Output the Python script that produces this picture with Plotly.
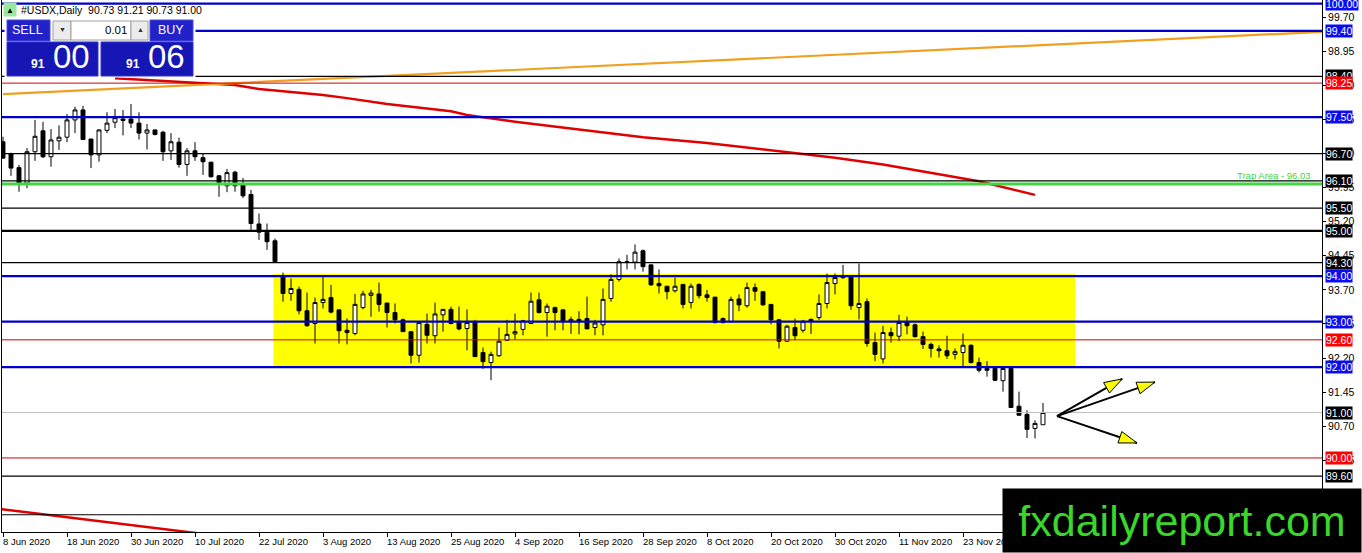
import numpy as np
import pandas as pd
import plotly.graph_objects as go

# #USDX daily candles, one per weekday from 8 Jun 2020
open_ = [
    96.96, 96.69, 96.39, 96.05, 96.74, 97.20, 96.63, 96.98, 97.06, 97.44,
    97.66, 97.02, 96.67, 97.21, 97.39, 97.46, 97.46, 97.37, 97.15, 97.22,
    97.17, 96.76, 96.95, 96.46, 96.76, 96.61, 96.51, 96.21, 95.99, 96.29,
    96.02, 95.80, 95.15, 94.97, 94.78, 93.99, 93.62, 93.71, 93.24, 92.96,
    93.42, 93.53, 93.26, 92.81, 92.74, 93.31, 93.58, 93.61, 93.41, 93.20,
    93.04, 92.78, 92.26, 92.94, 92.69, 93.15, 93.27, 93.00, 92.85, 93.00,
    92.32, 92.10, 92.25, 92.59, 92.73, 92.83, 92.96, 93.48, 93.20, 93.31,
    93.26, 93.00, 93.05, 93.07, 92.87, 92.93, 93.51, 93.93, 94.32, 94.31,
    94.56, 94.25, 93.84, 93.78, 93.68, 93.82, 93.42, 93.82, 93.59, 93.54,
    93.07, 93.00, 93.50, 93.35, 93.75, 93.66, 93.38, 93.04, 92.57, 92.87,
    92.81, 93.05, 93.09, 93.40, 93.84, 94.01, 93.99, 93.31, 93.44, 92.54,
    92.18, 92.76, 92.68, 93.00, 92.93, 92.67, 92.50, 92.40, 92.36, 92.28,
    92.32, 92.48, 92.10, 91.97, 91.97, 91.70, 91.97, 91.14, 90.96, 90.65,
    90.73,
]
high = [
    97.07, 96.72, 96.45, 96.82, 97.44, 97.40, 97.24, 97.32, 97.57, 97.73,
    97.75, 97.02, 97.23, 97.61, 97.68, 97.66, 97.79, 97.61, 97.35, 97.23,
    97.20, 97.15, 97.05, 96.82, 96.95, 96.69, 96.52, 96.23, 96.36, 96.32,
    96.16, 95.90, 95.38, 95.16, 94.83, 94.08, 93.95, 93.77, 93.64, 93.53,
    93.98, 93.81, 93.26, 93.07, 93.61, 93.68, 93.70, 93.86, 93.41, 93.40,
    93.07, 92.78, 92.98, 93.18, 93.42, 93.27, 93.33, 93.33, 93.27, 93.04,
    92.43, 92.34, 92.87, 93.04, 93.18, 93.04, 93.64, 93.64, 93.40, 93.33,
    93.26, 93.11, 93.23, 93.55, 93.04, 93.73, 94.04, 94.39, 94.47, 94.70,
    94.59, 94.25, 94.15, 93.78, 93.97, 93.82, 93.84, 93.84, 93.70, 93.54,
    93.09, 93.55, 93.60, 93.86, 93.84, 93.66, 93.38, 93.06, 92.93, 93.07,
    93.04, 93.07, 93.60, 94.06, 94.06, 94.25, 93.99, 94.28, 93.51, 92.76,
    92.91, 92.87, 93.15, 93.11, 92.96, 92.78, 92.54, 92.48, 92.69, 92.41,
    92.74, 92.50, 92.21, 92.13, 91.97, 92.01, 91.99, 91.46, 91.05, 90.83,
    91.21,
]
low = [
    96.58, 96.21, 95.86, 95.94, 96.54, 96.60, 96.41, 96.78, 96.95, 97.15,
    97.00, 96.38, 96.52, 97.15, 97.26, 97.10, 97.26, 97.01, 96.79, 97.10,
    96.54, 96.56, 96.39, 96.21, 96.54, 96.23, 96.17, 95.75, 95.85, 95.86,
    95.72, 95.02, 94.80, 94.58, 94.30, 93.44, 93.46, 93.16, 92.89, 92.52,
    93.29, 93.18, 92.52, 92.50, 92.70, 93.27, 93.11, 93.22, 92.87, 92.96,
    92.78, 92.08, 92.10, 92.52, 92.52, 92.78, 92.94, 92.81, 92.37, 92.23,
    91.96, 91.71, 92.23, 92.58, 92.61, 92.70, 92.96, 93.18, 92.67, 92.81,
    92.81, 92.73, 92.72, 92.84, 92.70, 92.70, 93.44, 93.88, 94.15, 94.15,
    94.10, 93.79, 93.62, 93.49, 93.64, 93.29, 93.29, 93.51, 93.44, 92.96,
    92.96, 92.98, 93.23, 93.31, 93.46, 93.35, 92.94, 92.41, 92.56, 92.59,
    92.76, 92.73, 93.04, 93.29, 93.60, 93.94, 93.26, 93.05, 92.45, 92.13,
    92.08, 92.54, 92.57, 92.72, 92.65, 92.40, 92.21, 92.21, 92.18, 92.17,
    92.01, 92.08, 91.88, 91.79, 91.69, 91.46, 91.10, 90.93, 90.44, 90.43,
    90.73,
]
close = [
    96.60, 96.38, 96.05, 96.74, 97.08, 96.63, 97.00, 97.06, 97.44, 97.66,
    97.01, 96.67, 97.22, 97.37, 97.49, 97.43, 97.37, 97.15, 97.22, 97.12,
    96.74, 96.96, 96.46, 96.76, 96.63, 96.52, 96.19, 96.06, 96.28, 95.99,
    95.77, 95.16, 94.97, 94.76, 94.32, 93.62, 93.73, 93.24, 92.91, 93.42,
    93.49, 93.21, 92.80, 92.76, 93.38, 93.61, 93.63, 93.38, 93.20, 93.04,
    92.78, 92.26, 92.98, 92.70, 93.17, 93.27, 92.96, 92.84, 92.98, 92.23,
    92.12, 92.28, 92.57, 92.72, 92.78, 93.02, 93.45, 93.20, 93.34, 93.20,
    93.00, 93.05, 93.00, 92.84, 92.97, 93.49, 93.93, 94.32, 94.31, 94.53,
    94.21, 93.81, 93.79, 93.66, 93.78, 93.38, 93.78, 93.57, 93.53, 92.98,
    92.98, 93.49, 93.37, 93.75, 93.67, 93.37, 93.04, 92.57, 92.90, 92.69,
    93.01, 93.01, 93.40, 93.86, 93.97, 93.97, 93.35, 93.40, 92.52, 92.28,
    92.76, 92.69, 92.98, 92.91, 92.67, 92.50, 92.41, 92.36, 92.25, 92.34,
    92.48, 92.10, 91.93, 91.93, 91.71, 91.97, 91.11, 90.94, 90.63, 90.76,
    91.00,
]

# horizontal levels drawn on the chart
levels = [100.00, 99.40, 98.40, 98.25, 97.50, 96.70, 96.10, 95.50, 95.00,
          94.30, 94.00, 93.00, 92.60, 92.00, 91.00, 90.00, 89.60, 88.75]
level_kinds = ['major', 'major', 'minor', 'pivot', 'major', 'minor', 'minor', 'minor', 'round',
               'minor', 'major', 'major', 'pivot', 'major', 'price', 'pivot', 'minor', 'minor']
trap_level = 96.03
y_ticks = [99.70, 98.95, 98.20, 97.45, 96.70, 95.95, 95.20, 94.45, 93.70,
           92.95, 92.20, 91.45, 90.70, 89.95, 89.20]

# consolidation box (bar index span, price span)
range_box_bars = [33.8, 134.0]
range_box_prices = [92.00, 94.05]

# moving average (red) sampled along the chart
ma_bars = [14, 16, 24, 29, 32, 40, 43, 48, 56, 58, 64, 72, 77, 80, 88, 96, 100, 104, 110, 117, 122, 129]
ma_values = [98.36, 98.34, 98.26, 98.21, 98.12, 97.99, 97.92, 97.79, 97.63, 97.55, 97.40,
             97.23, 97.13, 97.06, 96.93, 96.77, 96.69, 96.61, 96.46, 96.25, 96.09, 95.79]

# trendlines
trend_bars = [0, 165]
trend_values = [98.01, 99.38]
lower_trend_bars = [-1, 30]
lower_trend_values = [88.89, 88.22]

# scenario arrows
arrow_origin = (131.75, 90.92)
arrow_tip_bars = [139.9, 144.0, 141.75]
arrow_tip_prices = [91.74, 91.67, 90.33]

symbol = '#USDX,Daily'
bid_price, ask_price, lot = 91.00, 91.06, 0.01

dates = pd.bdate_range('2020-06-08', periods=len(close))
bars = np.arange(len(close))
tick_bars = bars[::8]
tick_text = [f'{d.day} {d:%b %Y}' for d in dates[::8]]

W, H = 1362, 553
ML, MR, MT, MB = 2, 40, 0, 21
PW, PH = W - ML - MR, H - MT - MB
x_range = [-0.125, 164.875]
y_range = [88.37, 100.08]
FONT = 'Liberation Sans'


def px(x):
    return (x - ML) / PW


def py(y):
    return 1 - (y - MT) / PH


line_style = {
    'major': ('#0000cc', 2.2, '#0c0cf0'),
    'minor': ('#000000', 1.2, '#000000'),
    'round': ('#000000', 2.2, '#000000'),
    'pivot': ('#d40000', 1.0, '#ff0000'),
    'price': ('#c0c0c0', 1.0, '#000000'),
}

fig = go.Figure()
fig.add_trace(
    go.Candlestick(
        x=bars,
        open=open_,
        high=high,
        low=low,
        close=close,
        increasing={'fillcolor': 'white', 'line': {'color': 'black', 'width': 1}},
        decreasing={'fillcolor': 'black', 'line': {'color': 'black', 'width': 1}},
        whiskerwidth=0,
        hoverinfo='skip',
        showlegend=False,
    )
)
fig.add_trace(go.Scatter(x=ma_bars, y=ma_values, mode='lines', line={'color': '#e00000', 'width': 2.5},
                         hoverinfo='skip', showlegend=False))
fig.add_trace(go.Scatter(x=trend_bars, y=trend_values, mode='lines', line={'color': '#f0a020', 'width': 2.2},
                         hoverinfo='skip', showlegend=False))
fig.add_trace(go.Scatter(x=lower_trend_bars, y=lower_trend_values, mode='lines', line={'color': '#e00000', 'width': 2.5},
                         hoverinfo='skip', showlegend=False))

shapes = []
annotations = []

# yellow range box behind candles
shapes.append(dict(type='rect', xref='x', yref='y', x0=range_box_bars[0], x1=range_box_bars[1],
                   y0=range_box_prices[0], y1=range_box_prices[1], fillcolor='#ffff00', line={'width': 0},
                   layer='below'))

for level, kind in zip(levels, level_kinds):
    color, width, box = line_style[kind]
    shapes.append(dict(type='line', xref='paper', yref='y', x0=0, x1=1, y0=level, y1=level,
                       line={'color': color, 'width': width}, layer='above'))
    annotations.append(dict(text=f'{level:.2f}', x=1, xref='paper', xanchor='left', xshift=3,
                            y=level, yref='y', yanchor='middle', showarrow=False, bgcolor=box,
                            borderpad=0, font={'family': FONT, 'size': 10.5, 'color': 'white'}))

shapes.append(dict(type='line', xref='paper', yref='y', x0=0, x1=1, y0=trap_level, y1=trap_level,
                   line={'color': '#44d444', 'width': 3}, layer='above'))
annotations.append(dict(text=f'Trap Area - {trap_level:.2f}', x=1, xref='paper', xanchor='right', xshift=-9,
                        y=trap_level, yref='y', yanchor='bottom', yshift=1, showarrow=False,
                        font={'family': FONT, 'size': 9.5, 'color': '#44d444'}))

# scenario arrows: black shafts with yellow heads
ppb = PW / (x_range[1] - x_range[0])
ppp = PH / (y_range[1] - y_range[0])
ox, oy = arrow_origin
for tx, ty in zip(arrow_tip_bars, arrow_tip_prices):
    shapes.append(dict(type='line', xref='x', yref='y', x0=ox, y0=oy, x1=tx, y1=ty,
                       line={'color': 'black', 'width': 2}, layer='above'))
    dx, dy = (tx - ox) * ppb, (ty - oy) * ppp
    n = np.hypot(dx, dy)
    ux, uy = dx / n, dy / n
    bx, by = -18 * ux, -18 * uy
    nx, ny = -uy * 6, ux * 6
    path = f'M0,0 L{bx + nx:.1f},{by + ny:.1f} L{bx - nx:.1f},{by - ny:.1f} Z'
    shapes.append(dict(type='path', xref='x', yref='y', xsizemode='pixel', ysizemode='pixel',
                       xanchor=tx, yanchor=ty, path=path, fillcolor='#ffff00',
                       line={'color': 'black', 'width': 1}, layer='above'))

# one-click trading panel
panel_rects = [
    ((5, 18, 195, 77), 'white', 'white'),
    ((7, 20, 50, 41), '#2222c8', '#4a4ae0'),
    ((53, 21, 71, 40), '#ececec', '#a0a0a0'),
    ((71, 21, 131, 40), 'white', '#a0a0a0'),
    ((131, 21, 148, 40), '#ececec', '#a0a0a0'),
    ((150, 20, 193, 41), '#2222c8', '#4a4ae0'),
    ((7, 42, 98, 76), '#1616b4', '#3030d0'),
    ((101, 42, 193, 76), '#1616b4', '#3030d0'),
    ((4, 3, 16, 16), '#9be89b', '#9be89b'),
]
for (x0, y0, x1, y1), fill, edge in panel_rects:
    shapes.append(dict(type='rect', xref='paper', yref='paper', x0=px(x0), x1=px(x1), y0=py(y1), y1=py(y0),
                       fillcolor=fill, line={'color': edge, 'width': 1}, layer='above'))


def label(text, x, y, size, color='white', xanchor='center', yanchor='middle'):
    annotations.append(dict(text=text, x=px(x), y=py(y), xref='paper', yref='paper', xanchor=xanchor,
                            yanchor=yanchor, showarrow=False, font={'family': FONT, 'size': size, 'color': color}))


bid_big, bid_small = f'{bid_price:.2f}'.split('.')
ask_big, ask_small = f'{ask_price:.2f}'.split('.')
label('SELL', 28, 30, 12.5)
label('BUY', 171, 30, 12.5)
label('▼', 62, 30, 7, '#333333')
label('▲', 140, 30, 7, '#333333')
label(f'{lot:.2f}', 129, 30, 11.5, 'black', xanchor='right')
label(f'<b>{bid_big}</b>', 47, 73, 12, xanchor='right', yanchor='bottom')
label(bid_small, 51, 77, 33, xanchor='left', yanchor='bottom')
label(f'<b>{ask_big}</b>', 142, 73, 12, xanchor='right', yanchor='bottom')
label(ask_small, 146, 77, 33, xanchor='left', yanchor='bottom')
label('▲', 10, 10, 8, 'black')
o, h, l, c = open_[-1], high[-1], low[-1], close[-1]
label(f'{symbol}  {o:.2f} {h:.2f} {l:.2f} {c:.2f}', 19, 10, 10.5, 'black', xanchor='left')

# date labels start at their tick, as in the terminal
for b, t in zip(tick_bars, tick_text):
    annotations.append(dict(text=t, x=b, xref='x', y=0, yref='paper', xanchor='left', xshift=-2,
                            yanchor='top', yshift=-2, showarrow=False,
                            font={'family': FONT, 'size': 9.5, 'color': 'black'}))

# site watermark
annotations.append(dict(text='fxdailyreport.com', x=px(1362), xref='paper', xanchor='right',
                        y=py(553), yref='paper', yanchor='bottom', width=358, height=63, bgcolor='black',
                        borderpad=0, showarrow=False, align='center', valign='middle',
                        font={'family': FONT, 'size': 43, 'color': '#3ad62a'}))

fig.update_layout(
    width=W,
    height=H,
    margin={'l': ML, 'r': MR, 't': MT, 'b': MB, 'pad': 0},
    paper_bgcolor='white',
    plot_bgcolor='white',
    font={'family': FONT, 'size': 10.5, 'color': 'black'},
    showlegend=False,
    shapes=shapes,
    annotations=annotations,
    xaxis={
        'range': x_range,
        'rangeslider': {'visible': False},
        'showgrid': False,
        'zeroline': False,
        'showline': True,
        'linecolor': 'black',
        'linewidth': 1,
        'tickvals': tick_bars,
        'ticks': 'outside',
        'ticklen': 4,
        'tickcolor': 'black',
        'showticklabels': False,
    },
    yaxis={
        'range': y_range,
        'side': 'right',
        'showgrid': False,
        'zeroline': False,
        'showline': True,
        'mirror': True,
        'linecolor': 'black',
        'linewidth': 1,
        'tickvals': y_ticks,
        'ticktext': [f'{v:.2f}' for v in y_ticks],
        'ticks': 'outside',
        'ticklen': 3,
        'tickcolor': 'black',
        'tickfont': {'family': FONT, 'size': 10.5, 'color': 'black'},
    },
)

# the page body has a default margin; drop it so the chart fills the window
fig.write_html('out.html', config={'displayModeBar': False},
               post_script="document.body.style.margin='0';")
